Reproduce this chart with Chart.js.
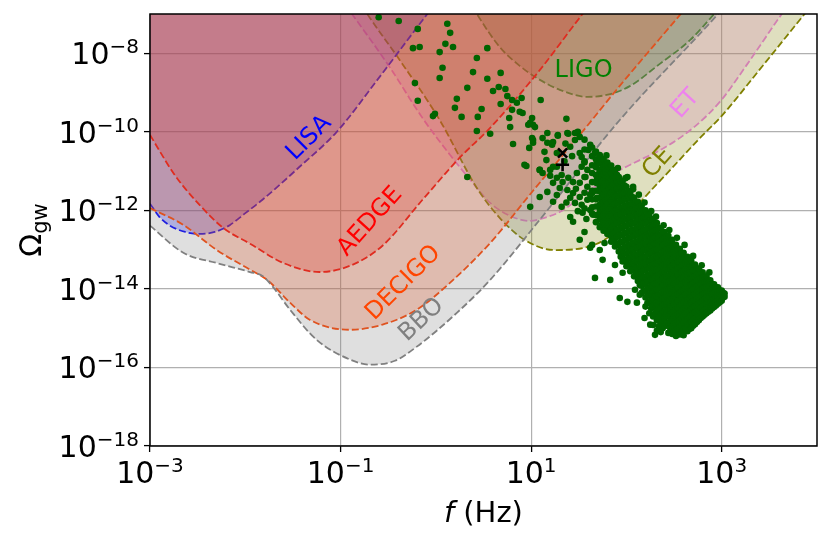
<!DOCTYPE html>
<html>
<head>
<meta charset="utf-8">
<script src="https://cdn.jsdelivr.net/npm/chart.js@4.4.1/dist/chart.umd.min.js"></script>
<style>
  html, body { margin: 0; padding: 0; background: #fff; }
  canvas { display: block; }
</style>
</head>
<body>
<canvas id="c" width="831" height="543"></canvas>
<script>
const FONT = '"DejaVu Sans", sans-serif';

// all values below are [log10 f (Hz), log10 Omega_gw]
const xTickExps = [-3, -1, 1, 3];
const yTickExps = [-18, -16, -14, -12, -10, -8];

const lisaCurve = [[-3.00,-11.83],[-2.90,-12.17],[-2.79,-12.39],[-2.63,-12.55],[-2.48,-12.60],[-2.32,-12.55],
  [-2.16,-12.37],[-2.01,-12.09],[-1.82,-11.73],[-1.43,-10.89],[-1.04,-10.00],[-0.59,-8.60],[-0.09,-7.00],[0.04,-6.60]];
const aedgeCurve = [[-3.00,-10.08],[-2.74,-11.10],[-2.48,-11.86],[-2.23,-12.45],[-1.95,-12.85],[-1.60,-13.34],
  [-1.22,-13.57],[-0.90,-13.41],[-0.56,-12.90],[-0.14,-11.73],[0.25,-10.66],[0.57,-9.90],[1.09,-8.43],[1.54,-7.00],[1.67,-6.62]];
const decigoCurve = [[-3.00,-11.94],[-2.65,-12.37],[-2.30,-13.01],[-1.95,-13.51],[-1.77,-13.77],[-1.53,-14.35],
  [-1.32,-14.79],[-0.90,-15.04],[-0.56,-14.91],[-0.20,-14.53],[0.15,-13.84],[0.57,-12.83],[1.02,-11.50],[1.51,-10.08],
  [1.93,-8.83],[2.57,-7.00],[2.72,-6.57]];
const bboCurve = [[-3.00,-12.39],[-2.65,-13.08],[-2.30,-13.34],[-1.95,-13.57],[-1.82,-13.67],[-1.71,-13.95],
  [-1.53,-14.53],[-1.25,-15.30],[-0.90,-15.80],[-0.69,-15.93],[-0.43,-15.83],[-0.20,-15.47],[0.22,-14.61],[0.57,-13.77],
  [1.09,-12.24],[1.93,-9.70],[2.96,-7.00],[3.11,-6.57]];
const ligoCurve = [[0.33,-6.59],[0.43,-7.00],[0.67,-7.84],[0.88,-8.32],[1.06,-8.63],[1.30,-8.93],[1.59,-9.11],
  [1.83,-9.04],[2.04,-8.83],[2.35,-8.27],[2.67,-7.66],[2.92,-7.00],[3.00,-6.77]];
const etCurve = [[-1.01,-6.57],[-0.88,-7.00],[-0.48,-8.37],[-0.14,-9.65],[0.15,-10.59],[0.36,-11.22],[0.57,-11.81],
  [0.78,-12.14],[0.99,-12.27],[1.14,-12.19],[1.30,-12.04],[1.65,-11.43],[1.90,-11.02],[2.14,-10.72],[2.36,-10.46],
  [2.71,-9.88],[2.99,-9.21],[3.27,-8.27],[3.63,-7.00],[3.76,-6.57]];
const ceCurve = [[-0.83,-6.57],[-0.72,-7.00],[-0.38,-8.17],[0.04,-9.70],[0.43,-11.43],[0.67,-12.19],[0.93,-12.75],
  [1.25,-13.01],[1.56,-12.95],[1.77,-12.75],[1.98,-12.29],[2.14,-11.81],[2.46,-10.97],[2.77,-10.16],[2.99,-9.62],
  [3.42,-8.35],[3.87,-7.00],[4.00,-6.62]];

// scattered model points, upper sparse part
const sparsePoints = [[-0.60,-7.08],[-0.39,-7.18],[-0.19,-7.38],[0.12,-7.25],[0.15,-7.48],[0.10,-7.76],[0.18,-7.84],
  [-0.24,-7.87],[-0.17,-7.84],[0.54,-7.87],[0.04,-7.97],[0.43,-8.12],[0.07,-8.37],[0.04,-8.63],[0.39,-8.48],[0.54,-8.65],
  [0.68,-8.50],[-0.22,-8.76],[0.33,-8.88],[0.60,-8.96],[0.66,-8.86],[0.73,-8.91],[0.22,-9.16],[-0.19,-9.21],[0.68,-9.29],
  [0.75,-9.09],[0.80,-9.19],[0.85,-9.26],[0.90,-9.14],[1.10,-9.19],[0.20,-9.39],[0.48,-9.42],[-0.01,-9.54],[-0.03,-9.60],
  [0.27,-9.62],[0.44,-9.62],[0.80,-9.44],[0.88,-9.49],[0.91,-9.52],[0.77,-9.65],[1.01,-9.65],[1.02,-9.82],[0.78,-9.88],
  [0.97,-9.82],[0.43,-9.98],[0.57,-10.05],[1.37,-9.67],[1.02,-10.21],[0.81,-10.31],[0.98,-10.41],[0.95,-10.87],
  [0.33,-11.15],[1.09,-10.97],[1.23,-10.89]];
// middle part around the marker
const midPoints = [[0.99,-9.77],[1.04,-9.88],[1.01,-10.16],[1.02,-10.28],[0.93,-10.84],[1.17,-10.03],[1.14,-10.51],
  [1.22,-10.33],[1.27,-10.54],[1.28,-10.08],[1.38,-10.03],[1.46,-10.03],[1.49,-10.00],[1.46,-10.21],[1.41,-10.38],
  [1.51,-10.54],[1.53,-10.64],[1.62,-10.33],[1.60,-10.46],[1.67,-10.54],[1.72,-10.59],[1.69,-10.79],[1.77,-10.79],
  [1.81,-11.02],[1.86,-10.97],[1.72,-11.02],[1.59,-10.97],[1.53,-10.89],[1.48,-11.05],[1.39,-11.17],[1.44,-11.28],
  [1.51,-11.30],[1.59,-11.40],[1.69,-11.22],[1.74,-11.15],[1.83,-11.17],[1.88,-11.35],[1.93,-11.48],[1.85,-11.53],
  [1.80,-11.43],[1.72,-11.40],[1.27,-10.89],[1.20,-10.97],[1.09,-10.97],[1.12,-11.05],[1.27,-11.17],[1.32,-11.10],
  [1.33,-11.28],[1.23,-11.30],[1.30,-11.43],[1.38,-11.48],[1.44,-11.56],[1.51,-11.66],[1.59,-11.73],[1.64,-11.56],
  [1.69,-11.68],[1.75,-11.73],[1.86,-11.73],[1.96,-11.73],[2.04,-11.66],[1.83,-11.94],[1.72,-11.94],[1.62,-11.99],
  [1.53,-11.86],[1.46,-11.81],[1.41,-11.68],[1.54,-12.06],[1.65,-12.11],[1.75,-12.17],[1.90,-12.04],[2.01,-11.99],
  [2.09,-11.91],[1.93,-12.19],[2.04,-12.17],[1.41,-12.17],[1.32,-11.91],[1.23,-11.78],[0.99,-11.91],[1.09,-11.66],
  [1.17,-11.53],[1.27,-11.61],[2.01,-11.15],[1.90,-11.10],[2.07,-11.40],[1.12,-10.16],[1.17,-10.28],[1.23,-10.26],
  [1.28,-10.10],[1.39,-10.05],[1.48,-10.03],[1.51,-10.13],[1.36,-10.30],[1.43,-10.62],[1.35,-10.75],[1.56,-10.78],
  [1.47,-11.45],[1.57,-11.15],[1.62,-11.60],[1.37,-11.80],[1.58,-12.22],[1.49,-12.02],[1.20,-11.12],[1.16,-10.72]];
// loose points just above the dense band
const edgePoints = [[1.79,-10.60],[1.91,-10.92],[1.99,-11.18],[2.07,-11.46],[2.13,-11.60],[2.19,-11.80],[2.26,-12.02],
  [2.31,-12.16],[2.39,-12.38],[2.45,-12.50],[2.53,-12.70],[2.61,-12.88],[2.70,-13.16],[2.79,-13.40],[2.87,-13.58]];
// points below the main band
const outlierPoints = [[1.44,-12.29],[1.62,-12.95],[1.67,-13.72],[1.75,-13.26],[1.83,-13.77],[1.93,-14.23],[2.01,-14.33],
  [2.11,-14.35],[1.96,-13.59],[1.72,-13.01],[1.64,-12.88],[1.51,-12.75],[1.88,-13.39],[2.09,-14.02],[1.56,-12.55],
  [1.77,-12.83],[2.14,-14.15],[2.19,-14.74],[2.25,-14.91],[2.30,-15.17],[2.35,-15.04]];
// dense band: [log10 f, [log10 Omega ...]]
const bandColumns = [
  [1.56, [-10.20,-10.45,-10.75,-11.15,-11.55,-11.95]],
  [1.64, [-10.40,-10.62,-10.85,-11.05,-11.28,-11.50,-11.72,-11.92,-12.08]],
  [1.68, [-10.50,-10.70,-10.90,-11.10,-11.30,-11.50,-11.72,-11.90,-12.12,-12.30]],
  [1.72, [-10.62,-10.80,-11.00,-11.15,-11.33,-11.52,-11.70,-11.86,-12.05,-12.22,-12.43]],
  [1.74, [-10.75,-10.94,-11.12,-11.28,-11.46,-11.65,-11.82,-11.99,-12.17,-12.37]],
  [1.76, [-10.70,-10.90,-11.08,-11.25,-11.44,-11.60,-11.80,-11.95,-12.13,-12.30,-12.52]],
  [1.78, [-10.84,-11.03,-11.20,-11.38,-11.56,-11.74,-11.91,-12.08,-12.26,-12.45]],
  [1.80, [-10.78,-10.95,-11.13,-11.30,-11.50,-11.66,-11.84,-12.02,-12.20,-12.38,-12.60]],
  [1.82, [-10.90,-11.08,-11.26,-11.44,-11.62,-11.79,-11.97,-12.15,-12.33,-12.53]],
  [1.84, [-10.86,-11.05,-11.22,-11.40,-11.56,-11.75,-11.92,-12.10,-12.28,-12.46,-12.66,-12.80]],
  [1.86, [-10.99,-11.17,-11.35,-11.52,-11.69,-11.87,-12.05,-12.23,-12.41,-12.60,-12.77]],
  [1.88, [-10.98,-11.15,-11.33,-11.50,-11.68,-11.85,-12.02,-12.20,-12.37,-12.55,-12.72,-12.92]],
  [1.90, [-11.10,-11.27,-11.45,-11.62,-11.80,-11.97,-12.14,-12.32,-12.50,-12.67,-12.86]],
  [1.92, [-11.15,-11.30,-11.46,-11.63,-11.80,-11.98,-12.15,-12.32,-12.50,-12.66,-12.85,-13.05]],
  [1.94, [-11.26,-11.42,-11.58,-11.75,-11.93,-12.10,-12.27,-12.45,-12.62,-12.80,-12.99,-13.18]],
  [1.96, [-11.25,-11.42,-11.60,-11.76,-11.93,-12.10,-12.27,-12.45,-12.62,-12.80,-12.98,-13.15,-13.30]],
  [1.98, [-11.37,-11.55,-11.72,-11.88,-12.05,-12.22,-12.40,-12.57,-12.75,-12.93,-13.10,-13.26]],
  [2.00, [-11.40,-11.55,-11.72,-11.90,-12.06,-12.24,-12.40,-12.58,-12.75,-12.92,-13.10,-13.28,-13.42]],
  [2.02, [-11.51,-11.67,-11.85,-12.02,-12.19,-12.36,-12.53,-12.70,-12.87,-13.05,-13.23,-13.39]],
  [2.04, [-11.55,-11.70,-11.86,-12.03,-12.20,-12.36,-12.54,-12.70,-12.88,-13.05,-13.22,-13.40,-13.55]],
  [2.06, [-11.66,-11.82,-11.98,-12.15,-12.32,-12.49,-12.66,-12.83,-13.00,-13.17,-13.35,-13.51]],
  [2.08, [-11.68,-11.84,-12.00,-12.16,-12.33,-12.50,-12.66,-12.84,-13.00,-13.18,-13.35,-13.52,-13.68]],
  [2.10, [-11.80,-11.96,-12.12,-12.29,-12.46,-12.62,-12.79,-12.96,-13.13,-13.30,-13.47,-13.64]],
  [2.12, [-11.78,-11.95,-12.12,-12.28,-12.45,-12.62,-12.80,-12.96,-13.13,-13.30,-13.48,-13.64,-13.80]],
  [2.14, [-11.91,-12.08,-12.24,-12.41,-12.58,-12.75,-12.92,-13.09,-13.26,-13.43,-13.60,-13.76,-13.90]],
  [2.16, [-11.88,-12.05,-12.22,-12.38,-12.55,-12.72,-12.90,-13.06,-13.24,-13.40,-13.57,-13.74,-13.92,-14.10]],
  [2.18, [-12.01,-12.18,-12.34,-12.51,-12.68,-12.85,-13.02,-13.19,-13.36,-13.53,-13.70,-13.87,-14.05]],
  [2.20, [-12.00,-12.16,-12.33,-12.50,-12.66,-12.84,-13.00,-13.18,-13.35,-13.52,-13.70,-13.86,-14.04,-14.22,-14.45]],
  [2.22, [-12.12,-12.29,-12.46,-12.62,-12.79,-12.96,-13.13,-13.30,-13.47,-13.65,-13.82,-13.99,-14.17,-14.36]],
  [2.24, [-12.12,-12.28,-12.45,-12.62,-12.78,-12.95,-13.12,-13.30,-13.46,-13.64,-13.80,-13.98,-14.15,-14.35,-14.62]],
  [2.26, [-12.24,-12.40,-12.57,-12.74,-12.90,-13.07,-13.25,-13.42,-13.59,-13.76,-13.93,-14.10,-14.28,-14.50]],
  [2.28, [-12.22,-12.40,-12.56,-12.73,-12.90,-13.07,-13.24,-13.40,-13.58,-13.75,-13.92,-14.08,-14.26,-14.45,-14.70,-14.92]],
  [2.30, [-12.35,-12.52,-12.68,-12.85,-13.02,-13.19,-13.36,-13.53,-13.70,-13.87,-14.04,-14.21,-14.40,-14.62]],
  [2.32, [-12.32,-12.50,-12.66,-12.84,-13.00,-13.18,-13.35,-13.52,-13.68,-13.86,-14.02,-14.20,-14.38,-14.56,-14.80,-15.06]],
  [2.34, [-12.45,-12.62,-12.79,-12.96,-13.13,-13.30,-13.47,-13.64,-13.81,-13.98,-14.15,-14.33,-14.51,-14.72,-14.95]],
  [2.36, [-12.45,-12.62,-12.78,-12.95,-13.12,-13.30,-13.46,-13.62,-13.80,-13.97,-14.14,-14.30,-14.48,-14.66,-14.86,-15.10]],
  [2.38, [-12.57,-12.74,-12.90,-13.07,-13.25,-13.42,-13.58,-13.75,-13.92,-14.09,-14.26,-14.43,-14.61,-14.80,-15.00]],
  [2.40, [-12.55,-12.72,-12.88,-13.05,-13.22,-13.38,-13.55,-13.72,-13.90,-14.06,-14.24,-14.40,-14.58,-14.75,-14.95]],
  [2.42, [-12.67,-12.84,-13.00,-13.17,-13.34,-13.50,-13.67,-13.85,-14.02,-14.19,-14.36,-14.53,-14.70,-14.90]],
  [2.44, [-12.65,-12.82,-12.98,-13.15,-13.32,-13.48,-13.66,-13.82,-14.00,-14.16,-14.34,-14.50,-14.68,-14.86,-15.12]],
  [2.46, [-12.77,-12.94,-13.10,-13.27,-13.44,-13.61,-13.78,-13.95,-14.12,-14.29,-14.46,-14.63,-14.81,-15.00]],
  [2.48, [-12.75,-12.92,-13.08,-13.25,-13.42,-13.58,-13.76,-13.92,-14.10,-14.26,-14.44,-14.60,-14.78,-14.96,-15.15]],
  [2.50, [-12.88,-13.04,-13.20,-13.37,-13.54,-13.71,-13.88,-14.05,-14.22,-14.39,-14.56,-14.73,-14.91,-15.08]],
  [2.52, [-12.88,-13.04,-13.20,-13.36,-13.52,-13.70,-13.86,-14.02,-14.20,-14.36,-14.52,-14.70,-14.88,-15.05,-15.20]],
  [2.54, [-12.99,-13.15,-13.31,-13.47,-13.64,-13.81,-13.97,-14.14,-14.31,-14.48,-14.65,-14.83,-15.01]],
  [2.56, [-12.98,-13.14,-13.30,-13.46,-13.62,-13.78,-13.95,-14.12,-14.28,-14.45,-14.62,-14.80,-14.98,-15.16]],
  [2.58, [-13.09,-13.25,-13.41,-13.57,-13.73,-13.89,-14.06,-14.23,-14.40,-14.57,-14.75,-14.93,-15.10]],
  [2.60, [-13.08,-13.24,-13.40,-13.56,-13.72,-13.88,-14.04,-14.20,-14.36,-14.52,-14.70,-14.86,-15.04,-15.18]],
  [2.62, [-13.19,-13.35,-13.51,-13.67,-13.83,-13.99,-14.15,-14.31,-14.48,-14.65,-14.82,-15.00]],
  [2.64, [-13.18,-13.34,-13.50,-13.65,-13.80,-13.96,-14.12,-14.28,-14.44,-14.60,-14.76,-14.92,-15.08]],
  [2.66, [-13.29,-13.45,-13.60,-13.76,-13.92,-14.08,-14.24,-14.40,-14.56,-14.72,-14.88,-15.02]],
  [2.68, [-13.28,-13.44,-13.58,-13.74,-13.90,-14.05,-14.20,-14.36,-14.52,-14.68,-14.84,-15.00]],
  [2.70, [-13.39,-13.54,-13.70,-13.85,-14.01,-14.17,-14.32,-14.48,-14.64,-14.80,-14.94]],
  [2.72, [-13.38,-13.54,-13.68,-13.84,-13.98,-14.14,-14.30,-14.45,-14.60,-14.76,-14.90]],
  [2.74, [-13.49,-13.64,-13.79,-13.94,-14.10,-14.26,-14.42,-14.57,-14.72,-14.84]],
  [2.76, [-13.48,-13.62,-13.78,-13.92,-14.08,-14.22,-14.38,-14.54,-14.68,-14.80]],
  [2.78, [-13.59,-13.73,-13.88,-14.03,-14.18,-14.34,-14.49,-14.63,-14.74]],
  [2.80, [-13.58,-13.72,-13.86,-14.00,-14.15,-14.30,-14.45,-14.58,-14.70]],
  [2.82, [-13.69,-13.83,-13.97,-14.12,-14.27,-14.41,-14.54,-14.66]],
  [2.84, [-13.68,-13.82,-13.95,-14.10,-14.24,-14.38,-14.52,-14.62]],
  [2.86, [-13.79,-13.92,-14.06,-14.20,-14.34,-14.47,-14.58]],
  [2.88, [-13.78,-13.90,-14.04,-14.18,-14.32,-14.45,-14.55]],
  [2.90, [-13.88,-14.01,-14.14,-14.28,-14.40,-14.50]],
  [2.92, [-13.88,-14.00,-14.12,-14.26,-14.38,-14.46]],
  [2.94, [-13.96,-14.09,-14.21,-14.33,-14.42]],
  [2.96, [-13.96,-14.08,-14.20,-14.30,-14.38]],
  [2.98, [-14.04,-14.15,-14.26,-14.34]],
  [3.00, [-14.04,-14.14,-14.24,-14.30]],
  [3.015, [-14.10,-14.22]],
  [3.03, [-14.12,-14.20]],
];
const crossMarker = [[1.33, -10.54]];
const plusMarker = [[1.33, -10.84]];

const detectorLabels = [
  { text: 'LISA',   color: '#0000ff', at: [-1.33, -10.16], angle: -45 },
  { text: 'AEDGE',  color: '#ff0000', at: [-0.69, -12.29], angle: -48 },
  { text: 'DECIGO', color: '#ff4500', at: [-0.34, -13.85], angle: -45 },
  { text: 'BBO',    color: '#808080', at: [-0.15, -14.79], angle: -43 },
  { text: 'LIGO',   color: '#008000', at: [1.55, -8.45],   angle: 0 },
  { text: 'ET',     color: '#ee82ee', at: [2.62, -9.29],   angle: -48 },
  { text: 'CE',     color: '#808000', at: [2.33, -10.79],  angle: -48 },
];

const toXY = (pts) => pts.map(([lf, lo]) => ({ x: 10 ** lf, y: 10 ** lo }));
const cloud = sparsePoints.concat(midPoints, edgePoints, outlierPoints,
  bandColumns.flatMap(([lf, los]) => los.map((lo) => [lf, lo])));

function curve(data, color, fillColor, order) {
  return {
    type: 'line',
    data: toXY(data),
    borderColor: color,
    borderWidth: 1.8,
    borderDash: [7, 3],
    backgroundColor: fillColor,
    fill: 'end',
    pointRadius: 0,
    cubicInterpolationMode: 'monotone',
    order: order,
  };
}

// draws "10" with a superscript exponent
function powLabel(ctx, exp, px, py, mode) {
  const sup = (exp < 0 ? '\u2212' : '') + Math.abs(exp);
  ctx.font = `30px ${FONT}`;
  const wb = ctx.measureText('10').width;
  ctx.font = `20px ${FONT}`;
  const ws = ctx.measureText(sup).width;
  const left = mode === 'x' ? px - (wb + ws) / 2 : px - (wb + ws);
  ctx.textAlign = 'left';
  ctx.textBaseline = 'alphabetic';
  ctx.font = `30px ${FONT}`;
  ctx.fillText('10', left, py);
  ctx.font = `20px ${FONT}`;
  ctx.fillText(sup, left + wb, py - 11);
}

const decor = {
  id: 'decor',
  afterDatasetsDraw(chart) {
    const { ctx, chartArea: a, scales: { x, y } } = chart;
    ctx.save();
    ctx.strokeStyle = '#000';
    ctx.lineWidth = 1.5;
    ctx.strokeRect(a.left, a.top, a.right - a.left, a.bottom - a.top);

    detectorLabels.forEach((l) => {
      ctx.save();
      ctx.translate(x.getPixelForValue(10 ** l.at[0]), y.getPixelForValue(10 ** l.at[1]));
      ctx.rotate(l.angle * Math.PI / 180);
      ctx.font = `24px ${FONT}`;
      ctx.fillStyle = l.color;
      ctx.textAlign = 'center';
      ctx.textBaseline = 'middle';
      ctx.fillText(l.text, 0, 0);
      ctx.restore();
    });

    ctx.fillStyle = '#000';
    xTickExps.forEach((e) => powLabel(ctx, e, x.getPixelForValue(10 ** e), a.bottom + 37, 'x'));
    yTickExps.forEach((e) => powLabel(ctx, e, a.left - 11, y.getPixelForValue(10 ** e) + 11, 'y'));

    // x title: italic f, then (Hz)
    ctx.textAlign = 'left';
    ctx.font = `italic 29px ${FONT}`;
    const wf = ctx.measureText('f').width;
    ctx.font = `29px ${FONT}`;
    const wh = ctx.measureText('(Hz)').width;
    const gap = 9;
    const sx = (a.left + a.right) / 2 - (wf + gap + wh) / 2;
    ctx.font = `italic 29px ${FONT}`;
    ctx.fillText('f', sx, a.bottom + 76);
    ctx.font = `29px ${FONT}`;
    ctx.fillText('(Hz)', sx + wf + gap, a.bottom + 76);

    // y title: Omega_gw
    ctx.save();
    ctx.translate(41, (a.top + a.bottom) / 2);
    ctx.rotate(-Math.PI / 2);
    ctx.font = `30px ${FONT}`;
    const wo = ctx.measureText('\u03A9').width;
    ctx.font = `21px ${FONT}`;
    const wg = ctx.measureText('gw').width;
    const ox = -(wo + wg) / 2;
    ctx.font = `30px ${FONT}`;
    ctx.fillText('\u03A9', ox, 0);
    ctx.font = `21px ${FONT}`;
    ctx.fillText('gw', ox + wo, 6);
    ctx.restore();
    ctx.restore();
  },
};

Chart.defaults.font.family = FONT;

const gridOpts = { color: '#b0b0b0', lineWidth: 1.2, tickColor: '#000', tickWidth: 1.3, tickLength: 6 };

new Chart(document.getElementById('c'), {
  type: 'scatter',
  data: {
    datasets: [
      { data: toXY(crossMarker), pointStyle: 'crossRot', pointRadius: 6.5, borderColor: '#000', borderWidth: 2.6, order: 0 },
      { data: toXY(plusMarker), pointStyle: 'cross', pointRadius: 6.5, borderColor: '#000', borderWidth: 2.6, order: 0 },
      { data: toXY(cloud), pointRadius: 3.3, backgroundColor: '#006400', borderWidth: 0, order: 1 },
      curve(bboCurve, '#808080', 'rgba(128,128,128,0.25)', 4),
      curve(decigoCurve, '#ff4500', 'rgba(255,69,0,0.25)', 5),
      curve(aedgeCurve, '#ff0000', 'rgba(255,0,0,0.25)', 6),
      curve(lisaCurve, '#0000ff', 'rgba(0,0,255,0.25)', 7),
      curve(ceCurve, '#808000', 'rgba(128,128,0,0.25)', 8),
      curve(etCurve, '#ee82ee', 'rgba(238,130,238,0.25)', 9),
      curve(ligoCurve, '#008000', 'rgba(0,128,0,0.25)', 10),
    ],
  },
  options: {
    responsive: false,
    animation: false,
    events: [],
    layout: { padding: { left: 0, right: 14, top: 14, bottom: 0 } },
    plugins: { legend: { display: false }, tooltip: { enabled: false } },
    scales: {
      x: {
        type: 'logarithmic', min: 1e-3, max: 1e4,
        afterBuildTicks: (s) => { s.ticks = xTickExps.map((e) => ({ value: 10 ** e })); },
        afterFit: (s) => { s.height = 97; },
        ticks: { display: false },
        grid: gridOpts,
        border: { display: false },
      },
      y: {
        type: 'logarithmic', min: 1e-18, max: 1e-7,
        afterBuildTicks: (s) => { s.ticks = yTickExps.map((e) => ({ value: 10 ** e })); },
        afterFit: (s) => { s.width = 150; },
        ticks: { display: false },
        grid: gridOpts,
        border: { display: false },
      },
    },
  },
  plugins: [decor],
});
</script>
</body>
</html>
